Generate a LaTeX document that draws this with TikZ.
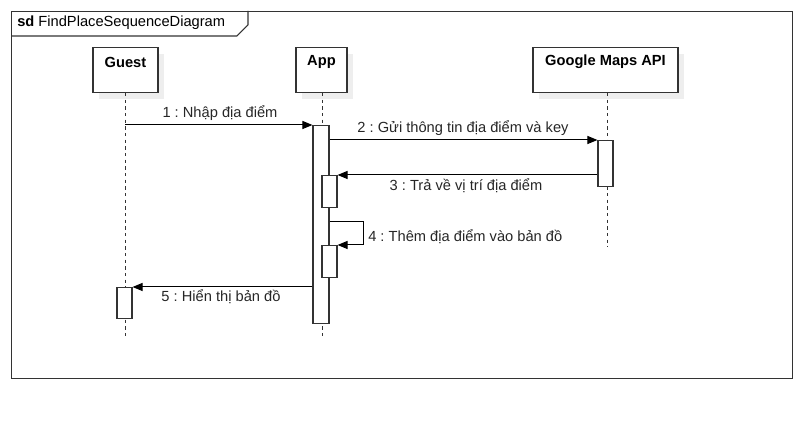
\documentclass[tikz,border=0pt]{standalone}
\usepackage{fontspec}
\setmainfont{Liberation Sans}
\usetikzlibrary{arrows.meta}
\frenchspacing
\definecolor{lineg}{HTML}{333333}
\definecolor{shade}{HTML}{EEEEEE}
\tikzset{
  px/.style={x=0.75pt,y=-0.75pt},
  lifebox/.style={draw=lineg,line width=0.8pt,fill=white,minimum height=33.75pt,inner sep=0pt},
  boxshadow/.style={fill=shade,draw=none,inner sep=0pt,minimum height=33.75pt},
  boxtitle/.style={font=\fontsize{11pt}{13pt}\selectfont\bfseries,inner sep=0pt},
  lifeline/.style={draw=lineg,line width=0.75pt,dash pattern=on 2.5pt off 2.5pt},
  actbar/.style={draw=lineg,line width=0.8pt,fill=white,inner sep=0pt,minimum width=11.25pt,anchor=north},
  msg/.style={draw=black,line width=0.75pt,-{Triangle[length=7.5pt,width=6pt]}},
  msglabel/.style={font=\fontsize{11pt}{13pt}\selectfont,inner sep=0pt,text=black!85},
}
\begin{document}
\begin{tikzpicture}[px]
\useasboundingbox (0,0) rectangle (808,423);
% frame
\node[draw=lineg,line width=0.8pt,inner sep=0pt,minimum width=585.75pt,minimum height=275.25pt,anchor=north west] (frame) at (11,11) {};
\coordinate (tabA) at (11,36);
\coordinate (tabB) at (237,36);
\coordinate (tabC) at (248,25);
\coordinate (tabD) at (248,11);
\draw[lineg,line width=0.8pt] (tabA) -- (tabB) -- (tabC) -- (tabD);
\node[font=\fontsize{11pt}{13pt}\selectfont,anchor=west,inner sep=0pt] (frametitle) at (17,23) {\textbf{sd} FindPlaceSequenceDiagram};

% shadows
\node[boxshadow,minimum width=48.75pt] (guestsh) at (131.5,77) {};
\node[boxshadow,minimum width=38.25pt] (appsh) at (327.5,77) {};
\node[boxshadow,minimum width=108.75pt] (gmapsh) at (611.5,77) {};

% participant boxes
\node[lifebox,minimum width=48.75pt] (guest) at (125.5,70) {};
\node[lifebox,minimum width=38.25pt] (app) at (321.5,70) {};
\node[lifebox,minimum width=108.75pt] (gmap) at (605.5,70) {};
\node[boxtitle] (guestT) at (125.5,62) {Guest};
\node[boxtitle] (appT) at (321.5,62) {App};
\node[boxtitle] (gmapT) at (605.5,62) {Google Maps API};

% lifeline ends
\coordinate (guestend) at (125,338);
\coordinate (append) at (322,338);
\coordinate (gmapend) at (607,247);
\draw[lifeline] (guest.south -| guestend) -- (guestend);
\draw[lifeline] (app.south -| append) -- (append);
\draw[lifeline] (gmap.south -| gmapend) -- (gmapend);

% activation bars
\node[actbar,minimum width=12pt,minimum height=148.5pt] (appact) at (321,125) {};
\node[actbar,minimum height=34.5pt] (gmapact) at (605.5,140) {};
\node[actbar,minimum height=24pt] (sub1) at (329.5,175) {};
\node[actbar,minimum height=24pt] (sub2) at (329.5,245) {};
\node[actbar,minimum height=23.25pt] (guestact) at (124.5,287) {};

% messages
\draw[msg] (guestend |- appact.north west) -- (appact.north west);
\node[msglabel] (m1) at (220,113) {1 : Nhập địa điểm};

\draw[msg] (appact.east |- gmapact.north west) -- (gmapact.north west);
\node[msglabel] (m2) at (463,128) {2 : Gửi thông tin địa điểm và key};

\draw[msg] (gmapact.west |- sub1.north east) -- (sub1.north east);
\node[msglabel] (m3) at (466,186) {3 : Trả về vị trí địa điểm};

\coordinate (selfA) at (363,222);
\coordinate (selfB) at (363,245);
\draw[msg] (appact.east |- selfA) -- (selfA) -- (selfB) -- (sub2.north east);
\node[msglabel,anchor=west] (m4) at (368,237) {4 : Thêm địa điểm vào bản đồ};

\draw[msg] (appact.west |- guestact.north east) -- (guestact.north east);
\node[msglabel] (m5) at (221,297) {5 : Hiển thị bản đồ};
\end{tikzpicture}
\end{document}
